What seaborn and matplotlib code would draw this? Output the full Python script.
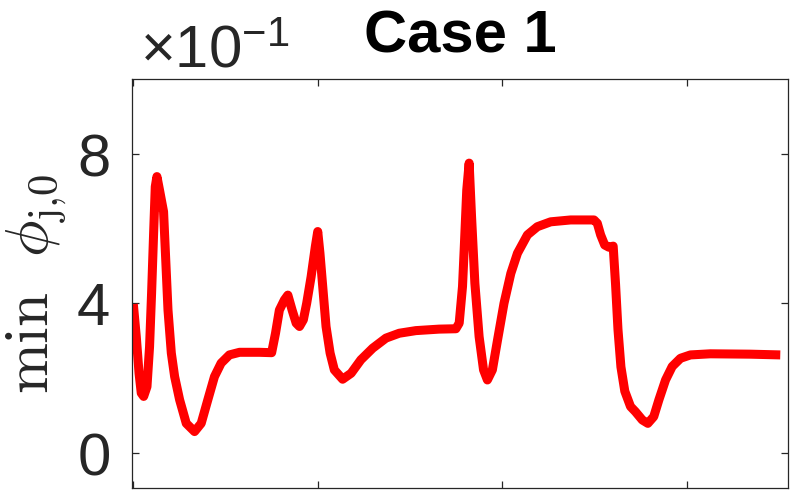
import matplotlib
matplotlib.use('Agg')
import matplotlib.pyplot as plt
import matplotlib.ticker as mticker
import matplotlib.transforms as mtransforms
import pandas as pd
import seaborn as sns

time = [0.0, 0.16, 0.31, 0.43, 0.56, 0.74, 0.88, 0.99, 1.10, 1.19, 1.28, 1.42,
        1.64, 1.88, 2.06, 2.24, 2.51, 2.87, 3.32, 3.68, 4.04, 4.40, 4.76, 5.21,
        5.76, 6.84, 7.50, 7.71, 7.92, 8.19, 8.38, 8.61, 8.83, 9.01, 9.22, 9.40,
        9.64, 9.87, 10.0, 10.12, 10.27, 10.45, 10.67, 10.90, 11.35, 11.81, 12.34,
        12.98, 13.70, 14.42, 15.32, 16.58, 17.49, 17.67, 17.85, 17.94, 18.08,
        18.21, 18.34, 18.52, 18.75, 18.99, 19.20, 19.47, 19.75, 20.10, 20.47,
        20.83, 21.37, 21.91, 22.63, 23.71, 24.98, 25.16, 25.34, 25.56, 25.79,
        26.02, 26.15, 26.28, 26.44, 26.65, 26.96, 27.23, 27.60, 27.90, 28.22,
        28.50, 28.86, 29.22, 29.67, 30.21, 31.29, 33.46, 35.08]
min_phi = [0.398, 0.311, 0.213, 0.160, 0.151, 0.177, 0.284, 0.427, 0.587, 0.712,
           0.739, 0.703, 0.645, 0.382, 0.267, 0.204, 0.142, 0.079, 0.057, 0.079,
           0.142, 0.204, 0.240, 0.262, 0.269, 0.269, 0.268, 0.320, 0.382, 0.409,
           0.422, 0.382, 0.347, 0.338, 0.356, 0.400, 0.471, 0.552, 0.592, 0.534,
           0.445, 0.338, 0.267, 0.222, 0.197, 0.213, 0.249, 0.280, 0.307, 0.320,
           0.327, 0.331, 0.332, 0.347, 0.445, 0.543, 0.703, 0.775, 0.632, 0.454,
           0.311, 0.222, 0.195, 0.222, 0.302, 0.400, 0.480, 0.534, 0.583, 0.605,
           0.618, 0.623, 0.623, 0.614, 0.583, 0.556, 0.550, 0.553, 0.450, 0.330,
           0.230, 0.165, 0.124, 0.110, 0.088, 0.079, 0.097, 0.142, 0.195, 0.231,
           0.253, 0.262, 0.265, 0.264, 0.262]

df = pd.DataFrame({'time': time, 'min_phi': min_phi})

sns.set_style('ticks')
plt.rcParams['font.family'] = ['Liberation Sans', 'DejaVu Sans']
plt.rcParams['mathtext.fontset'] = 'custom'
plt.rcParams['mathtext.rm'] = 'Liberation Sans'
plt.rcParams['mathtext.it'] = 'Liberation Sans:italic'

fig = plt.figure(figsize=(7.93, 4.95), dpi=100)
ax = fig.add_axes([0.1665, 0.0141, 0.8272, 0.8263])

sns.lineplot(data=df, x='time', y='min_phi', color='#ff0000', linewidth=6.5,
             ax=ax, legend=False, solid_joinstyle='round', solid_capstyle='butt')

ax.set_xlim(-0.07, 35.5)
ax.set_ylim(-0.094, 1.0)
ax.set_xticks([0, 10, 20, 30])
ax.set_yticks([0, 0.4, 0.8])
ax.xaxis.set_major_formatter(mticker.NullFormatter())
fmt = mticker.ScalarFormatter(useMathText=True)
fmt.set_powerlimits((-1, -1))
ax.yaxis.set_major_formatter(fmt)

for side in ['top', 'right', 'left', 'bottom']:
    ax.spines[side].set_visible(True)
    ax.spines[side].set_color('#262626')
    ax.spines[side].set_linewidth(0.9)
ax.tick_params(direction='in', length=5, width=0.9, color='#262626',
               top=True, right=True, labelsize=43, labelcolor='#262626', pad=16)

off = ax.yaxis.get_offset_text()
off.set_fontsize(43)
off.set_color('#262626')
off.set_transform(off.get_transform() + mtransforms.Affine2D().translate(8, 7))

ax.set_xlabel('')
ax.set_ylabel(r'$\min\ \ \phi_{\mathrm{j{,}0}}$', fontsize=44, color='#262626',
              math_fontfamily='cm', labelpad=6)
ax.set_title('Case 1', fontsize=43, fontweight='bold', color='black', pad=19)

fig.savefig('out.png', dpi=100)
